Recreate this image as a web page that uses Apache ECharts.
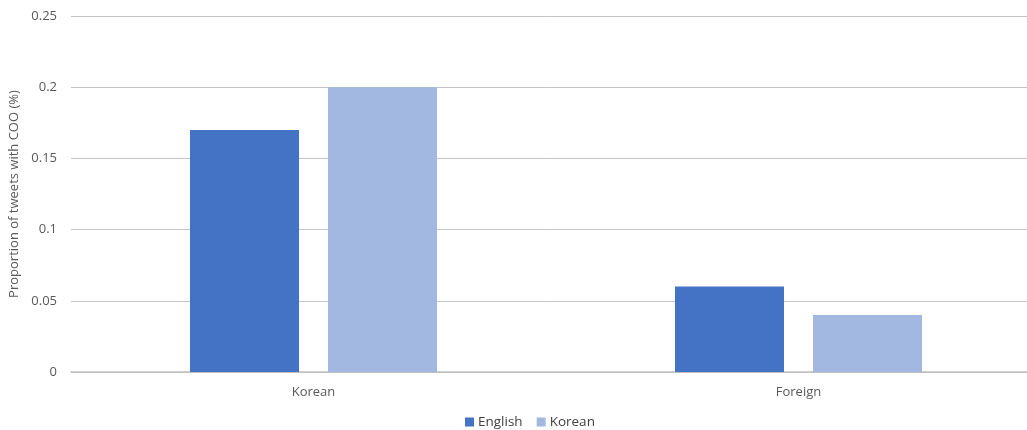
<!DOCTYPE html>
<html><head><meta charset="utf-8">
<script src="https://cdn.jsdelivr.net/npm/echarts@6/dist/echarts.min.js"></script>
<style>html,body{margin:0;padding:0;background:#fff}#c{width:1027px;height:430px}</style>
</head><body><div id="c"></div>
<script>
const categories = ['Korean', 'Foreign'];
const englishValues = [0.17, 0.06];
const koreanValues = [0.20, 0.04];
const yTicks = [0, 0.05, 0.1, 0.15, 0.2, 0.25];
const seriesNames = ['English', 'Korean'];

const chart = echarts.init(document.getElementById('c'));
const font = 'Open Sans, Liberation Sans, sans-serif';
chart.setOption({
  animation: false,
  textStyle: { fontFamily: font },
  grid: { left: 71, width: 970, top: 16, bottom: 58, containLabel: false, outerBoundsMode: 'none' },
  legend: {
    data: seriesNames, top: 410, left: 460, itemWidth: 9, itemHeight: 9, itemGap: 14,
    icon: 'rect', textStyle: { fontSize: 13.5, color: '#404040', fontFamily: font, padding: [0, 0, 0, -1] }
  },
  xAxis: {
    type: 'category', data: categories,
    axisLine: { lineStyle: { color: '#bfbfbf', width: 1.5 } },
    axisTick: { show: false },
    axisLabel: { fontSize: 13, color: '#595959', margin: 14, fontFamily: font }
  },
  yAxis: {
    type: 'value', min: 0, max: 0.25, interval: 0.05,
    name: 'Proportion of tweets with COO (%)', nameLocation: 'middle', nameGap: 44,
    nameTextStyle: { fontSize: 13, color: '#595959', fontFamily: font },
    axisLabel: { fontSize: 13, color: '#595959', margin: 14, fontFamily: font,
      formatter: v => { const t = yTicks.find(x => Math.abs(x - v) < 1e-9); return String(t !== undefined ? t : v); } },
    splitLine: { lineStyle: { color: '#c4c4c4', width: 1 } },
    axisLine: { show: false }, axisTick: { show: false }
  },
  series: [
    { name: seriesNames[0], type: 'bar', data: englishValues, barWidth: 109, barGap: '26.6%',
      itemStyle: { color: '#4472C4' } },
    { name: seriesNames[1], type: 'bar', data: koreanValues, barWidth: 109,
      itemStyle: { color: '#A2B8E0' } }
  ]
});
</script></body></html>
